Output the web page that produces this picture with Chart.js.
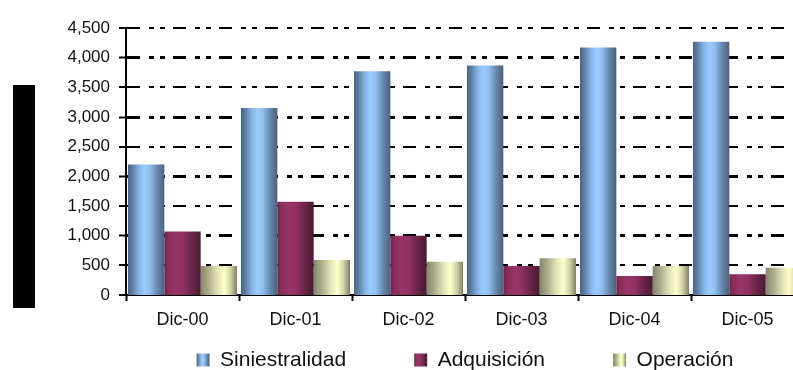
<!DOCTYPE html>
<html>
<head>
<meta charset="utf-8">
<script src="https://cdn.jsdelivr.net/npm/chart.js@4/dist/chart.umd.min.js"></script>
<style>
  html, body { margin: 0; padding: 0; background: #fff; overflow: hidden; }
  #frame { width: 793px; height: 370px; overflow: hidden; position: relative; }
</style>
</head>
<body>
<div id="frame"><canvas id="chart" width="820" height="370"></canvas></div>
<script>
// Year-end figures by concept
const categories = ['Dic-00', 'Dic-01', 'Dic-02', 'Dic-03', 'Dic-04', 'Dic-05'];
const seriesNames = ['Siniestralidad', 'Adquisición', 'Operación'];
const siniestralidad = [2200, 3150, 3770, 3870, 4170, 4270];
const adquisicion = [1070, 1570, 1000, 490, 320, 350];
const operacion = [490, 590, 560, 620, 490, 460];
const yAxisMin = 0;
const yAxisMax = 4500;
const yAxisStep = 500;

// Cylinder-like horizontal shading for each series
const shading = {
  blue:  [[0, '#4b6381'], [0.12, '#5f7ea3'], [0.3, '#86b3e3'], [0.45, '#99ccff'], [0.6, '#8fbfef'], [0.8, '#6888ad'], [1, '#4a6180']],
  plum:  [[0, '#6e2549'], [0.12, '#8c2f5c'], [0.3, '#993366'], [0.5, '#923163'], [0.75, '#6a2548'], [1, '#4a1a32']],
  cream: [[0, '#85856b'], [0.2, '#a9a98a'], [0.45, '#e0e0b5'], [0.65, '#ffffcc'], [0.82, '#d3d3a8'], [1, '#7f7f66']]
};
const baseColors = { blue: '#99ccff', plum: '#993366', cream: '#ffffcc' };

function makeGradient(ctx, left, right, stops) {
  const g = ctx.createLinearGradient(left, 0, right, 0);
  stops.forEach(([p, c]) => g.addColorStop(p, c));
  return g;
}

// Dark block standing to the left of the value axis
const sideBlock = { x: 13, y: 85, w: 22, h: 223 };
const sideBlockPlugin = {
  id: 'sideBlock',
  beforeDraw(chart) {
    const ctx = chart.ctx;
    ctx.save();
    ctx.fillStyle = '#000';
    ctx.fillRect(sideBlock.x, sideBlock.y, sideBlock.w, sideBlock.h);
    ctx.restore();
  }
};

// Paint every bar with its series' cylinder shading
const cylinderShade = {
  id: 'cylinderShade',
  beforeDatasetsDraw(chart) {
    const ctx = chart.ctx;
    chart.data.datasets.forEach((ds, i) => {
      chart.getDatasetMeta(i).data.forEach(bar => {
        const l = bar.x - bar.width / 2;
        const r = bar.x + bar.width / 2;
        bar.options.backgroundColor = makeGradient(ctx, l, r, shading[ds.shade]);
      });
    });
  }
};

// Center the legend row under the plot area and shade its swatches
const legendTextMid = 360;
const legendUnderPlot = {
  id: 'legendUnderPlot',
  afterLayout(chart) {
    const lg = chart.legend;
    const area = chart.chartArea;
    const opts = chart.options.plugins.legend.labels;
    const pad = opts.padding;
    const slack = 40;
    lg.left = area.left - slack;
    lg.right = area.right + slack;
    lg.top = legendTextMid - opts.font.size / 2 - pad;
  },
  beforeDraw(chart) {
    const lg = chart.legend;
    const opts = chart.options.plugins.legend.labels;
    if (typeof lg.adjustHitBoxes === 'function') lg.adjustHitBoxes();
    (lg.legendItems || []).forEach((item, i) => {
      const hb = lg.legendHitBoxes[i];
      if (!hb) return;
      const ds = chart.data.datasets[item.datasetIndex];
      item.fillStyle = makeGradient(chart.ctx, hb.left, hb.left + opts.boxWidth, shading[ds.shade]);
    });
  }
};

Chart.defaults.font.family = "'Liberation Sans', Arial, sans-serif";
Chart.defaults.color = '#111';

const series = [
  { label: seriesNames[0], data: siniestralidad, shade: 'blue' },
  { label: seriesNames[1], data: adquisicion, shade: 'plum' },
  { label: seriesNames[2], data: operacion, shade: 'cream' }
];

new Chart(document.getElementById('chart'), {
  type: 'bar',
  data: {
    labels: categories,
    datasets: series.map(s => ({
      label: s.label,
      data: s.data,
      shade: s.shade,
      backgroundColor: () => baseColors[s.shade],
      borderWidth: 0,
      categoryPercentage: 0.965,
      barPercentage: 1
    }))
  },
  options: {
    responsive: false,
    animation: false,
    locale: 'en-US',
    layout: { padding: { top: 28, left: 0, right: 16, bottom: 0 } },
    plugins: {
      tooltip: { enabled: false },
      legend: {
        position: 'bottom',
        maxHeight: 39,
        labels: {
          boxWidth: 13,
          boxHeight: 13,
          padding: 68,
          color: '#111',
          font: { size: 21 }
        }
      }
    },
    scales: {
      x: {
        grid: {
          display: true,
          drawOnChartArea: false,
          drawTicks: true,
          offset: true,
          tickLength: 6,
          tickColor: '#000',
          tickWidth: 2
        },
        border: { color: '#000', width: 2 },
        ticks: { font: { size: 18 }, color: '#111', padding: 8, maxRotation: 0 },
        afterFit(scale) { scale.height = 36; }
      },
      y: {
        min: yAxisMin,
        max: yAxisMax,
        ticks: { stepSize: yAxisStep, font: { size: 17 }, color: '#111', padding: 9 },
        grid: {
          color: '#000',
          lineWidth: c => (c.tick && c.tick.value === 0) ? 0 : (c.tick && c.tick.value % 1000 === 0 ? 3 : 2),
          tickLength: 7,
          tickColor: '#000',
          tickWidth: 2
        },
        border: { color: '#000', width: 2, dash: [13, 9, 5, 6, 5, 8] },
        afterFit(scale) { scale.width = 126; }
      }
    }
  },
  plugins: [sideBlockPlugin, cylinderShade, legendUnderPlot]
});
</script>
</body>
</html>
